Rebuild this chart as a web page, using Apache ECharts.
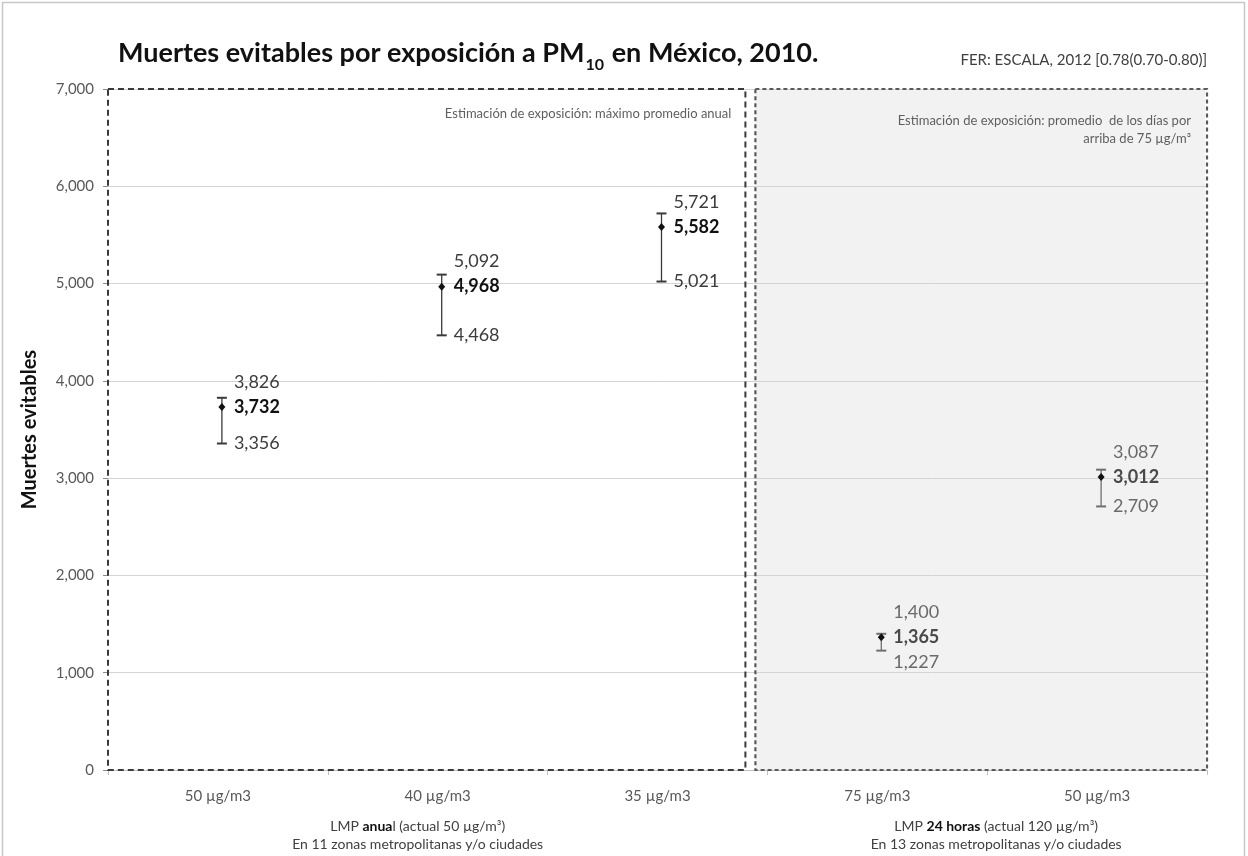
<!DOCTYPE html>
<html>
<head>
<meta charset="utf-8">
<script src="https://cdn.jsdelivr.net/npm/echarts@6/dist/echarts.min.js"></script>
<style>
  html, body { margin: 0; padding: 0; background: #ffffff; }
  #chart { width: 1248px; height: 856px; }
</style>
</head>
<body>
<div id="chart"></div>
<script>
// Avoidable deaths from PM10 exposure, Mexico 2010: central estimate with interval
const categories = ['50 µg/m3', '40 µg/m3', '35 µg/m3', '75 µg/m3', '50 µg/m3'];
const meanValues = [3732, 4968, 5582, 1365, 3012];
const lowValues  = [3356, 4468, 5021, 1227, 2709];
const highValues = [3826, 5092, 5721, 1400, 3087];
const yTickMax = 7000;
const yTickStep = 1000;

const FONT = 'Lato, "Open Sans", sans-serif';
const fmt = v => v.toLocaleString('en-US');

const chart = echarts.init(document.getElementById('chart'), null, { renderer: 'canvas' });

// first three points belong to the annual limit group, last two to the 24 h group
const isDaily = i => i >= 3;

function renderItem(params, api) {
  const i = params.dataIndex;
  const pMean = api.coord([i, api.value(1)]);
  const x = pMean[0] + 4;
  const yM = pMean[1];
  const yL = api.coord([i, api.value(2)])[1];
  const yH = api.coord([i, api.value(3)])[1];
  const barColor = isDaily(i) ? '#6f6f6f' : '#3a3a3a';
  const textColor = isDaily(i) ? '#6a6a6a' : '#3c3c3c';
  const meanColor = isDaily(i) ? '#4a4a4a' : '#111111';
  const lx = x + 12;
  const yHiLabel = Math.min(yH, yM - 25);
  const yLoLabel = Math.max(yL, yM + 25);
  return {
    type: 'group',
    children: [
      { type: 'line', shape: { x1: x, y1: yH, x2: x, y2: yL }, style: { stroke: barColor, lineWidth: 1.3 } },
      { type: 'line', shape: { x1: x - 5, y1: yH, x2: x + 5, y2: yH }, style: { stroke: barColor, lineWidth: 2 } },
      { type: 'line', shape: { x1: x - 5, y1: yL, x2: x + 5, y2: yL }, style: { stroke: barColor, lineWidth: 2 } },
      { type: 'polygon', shape: { points: [[x, yM - 4], [x + 3.5, yM], [x, yM + 4], [x - 3.5, yM]] }, style: { fill: '#111111' } },
      { type: 'text', x: lx, y: yHiLabel, style: { text: fmt(api.value(3)), fill: textColor, font: '18px ' + FONT, verticalAlign: 'middle', align: 'left' } },
      { type: 'text', x: lx, y: yM, style: { text: fmt(api.value(1)), fill: meanColor, font: 'bold 18px ' + FONT, verticalAlign: 'middle', align: 'left' } },
      { type: 'text', x: lx, y: yLoLabel, style: { text: fmt(api.value(2)), fill: textColor, font: '18px ' + FONT, verticalAlign: 'middle', align: 'left' } }
    ]
  };
}

const option = {
  backgroundColor: '#ffffff',
  animation: false,
  title: {
    left: 113,
    top: 28,
    text: 'Muertes evitables por exposición a PM{s|10} en México, 2010.',
    textStyle: {
      fontFamily: FONT, fontSize: 27, fontWeight: 'bold', color: '#111111',
      rich: {
        s: { fontFamily: FONT, fontSize: 16, fontWeight: 'bold', color: '#111111', verticalAlign: 'bottom', lineHeight: 40, padding: [0, 1, 0, 1] }
      },
      lineHeight: 40
    }
  },
  grid: { left: 108, right: 41, top: 89, bottom: 86, containLabel: false },
  xAxis: {
    type: 'category',
    data: categories,
    axisLine: { show: true, lineStyle: { color: '#bfbfbf', width: 1 } },
    axisTick: { show: true, length: 5, lineStyle: { color: '#bfbfbf' } },
    axisLabel: { color: '#595959', fontFamily: FONT, fontSize: 15, margin: 19 },
    splitLine: { show: false }
  },
  yAxis: {
    type: 'value',
    min: 0,
    max: yTickMax,
    interval: yTickStep,
    name: 'Muertes evitables',
    nameLocation: 'middle',
    nameRotate: 90,
    nameGap: 68,
    nameTextStyle: { fontFamily: FONT, fontSize: 20, fontWeight: 'bold', color: '#111111' },
    axisLine: { show: false },
    axisTick: { show: true, length: 5, lineStyle: { color: '#8c8c8c' } },
    axisLabel: { color: '#595959', fontFamily: FONT, fontSize: 15, margin: 14, formatter: v => fmt(v) },
    splitLine: { show: true, lineStyle: { color: '#d4d4d4', width: 1 } }
  },
  series: [{
    type: 'custom',
    renderItem: renderItem,
    encode: { x: 0, y: [1, 2, 3] },
    data: categories.map((c, i) => [i, meanValues[i], lowValues[i], highValues[i]]),
    z: 10
  }]
};

chart.setOption(option);

// frames, shading and notes placed from the axes' own pixel scale
const yTop = chart.convertToPixel({ yAxisIndex: 0 }, yTickMax);
const yBottom = chart.convertToPixel({ yAxisIndex: 0 }, 0);
const cx = i => chart.convertToPixel({ xAxisIndex: 0 }, i);
const plotLeft = 108;
const plotRight = 1248 - 41;
const split = (cx(2) + cx(3)) / 2;
const box1Right = split - 22;
const box2Left = split - 12;
const group1X = (cx(0) + cx(2)) / 2 - 20;
const group2X = (cx(3) + cx(4)) / 2 + 9;

const captionRich = { b: { fontFamily: FONT, fontSize: 14, fontWeight: 'bold', fill: '#111111', lineHeight: 18 } };

chart.setOption({
  graphic: [
    // outer chart border
    { type: 'rect', z: -20, silent: true, shape: { x: 2.5, y: 2.5, width: 1242, height: 900 }, style: { fill: 'none', stroke: '#c8c8c8', lineWidth: 1.5 } },
    // shaded 24 h block
    { type: 'rect', z: -10, silent: true, shape: { x: box2Left, y: yTop, width: plotRight - box2Left - 2, height: yBottom - yTop }, style: { fill: '#f2f2f2' } },
    // dashed frames
    { type: 'rect', z: 5, silent: true, shape: { x: plotLeft, y: yTop, width: box1Right - plotLeft, height: yBottom - yTop }, style: { fill: 'none', stroke: '#3a3a3a', lineWidth: 2, lineDash: [6, 4] } },
    { type: 'rect', z: 5, silent: true, shape: { x: box2Left, y: yTop, width: plotRight - box2Left, height: yBottom - yTop }, style: { fill: 'none', stroke: '#5a5a5a', lineWidth: 2.2, lineDash: [4, 3] } },
    // notes
    { type: 'text', z: 6, silent: true, x: 1207, y: 60, style: { text: 'FER: ESCALA, 2012 [0.78(0.70-0.80)]', font: '15px ' + FONT, fill: '#404040', align: 'right', verticalAlign: 'middle' } },
    { type: 'text', z: 6, silent: true, x: box1Right - 14, y: 114, style: { text: 'Estimación de exposición: máximo promedio anual', font: '13px ' + FONT, fill: '#5f5f5f', align: 'right', verticalAlign: 'middle' } },
    { type: 'text', z: 6, silent: true, x: plotRight - 16, y: 130, style: { text: 'Estimación de exposición: promedio  de los días por\narriba de 75 µg/m³', font: '13px ' + FONT, fill: '#5f5f5f', align: 'right', verticalAlign: 'middle', lineHeight: 18 } },
    // group captions under the category labels
    { type: 'text', z: 6, silent: true, x: group1X, y: 835, style: {
        text: 'LMP {b|anua}l (actual 50 µg/m³)\nEn 11 zonas metropolitanas y/o ciudades',
        font: '14px ' + FONT, fill: '#404040', align: 'center', verticalAlign: 'middle', lineHeight: 18,
        rich: captionRich } },
    { type: 'text', z: 6, silent: true, x: group2X, y: 835, style: {
        text: 'LMP {b|24 horas} (actual 120 µg/m³)\nEn 13 zonas metropolitanas y/o ciudades',
        font: '14px ' + FONT, fill: '#404040', align: 'center', verticalAlign: 'middle', lineHeight: 18,
        rich: captionRich } }
  ]
});
</script>
</body>
</html>
